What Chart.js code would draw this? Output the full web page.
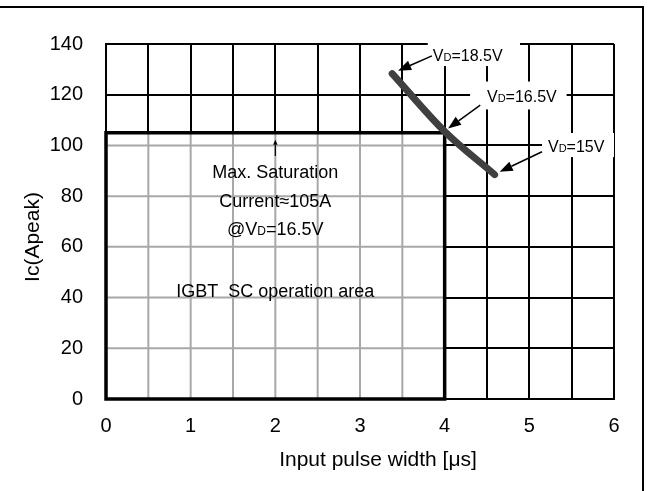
<!DOCTYPE html>
<html>
<head>
<meta charset="utf-8">
<script src="https://cdn.jsdelivr.net/npm/chart.js@4.4.1/dist/chart.umd.min.js"></script>
<style>
  html, body { margin: 0; padding: 0; background: #fff; overflow: hidden; }
  #frame { position: absolute; left: -4px; top: 6px; width: 648px; height: 520px; border: 2px solid #000; box-sizing: border-box; }
  #c { position: absolute; left: 0; top: 0; }
</style>
</head>
<body>
<div id="frame"></div>
<canvas id="c" width="659" height="491"></canvas>
<script>
// curve: Ic(peak) vs input pulse width
const pulseWidth = [3.38, 4.0, 4.59]
const icPeak = [128.3, 105.5, 88.5]

// axes
const xMin = 0, xMax = 6, xStep = 0.5
const yMin = 0, yMax = 140, yStep = 20

// SC operation area (x 0..4 us, y 0..105 A)
const areaX = [0, 4]
const areaY = [0, 105]

// VD labels: text, text anchor [x, y], white box [x0, x1, y0, y1], arrow tail, arrow head
const vdText = ["=18.5V", "=16.5V", "=15V"]
const vdAt = [[3.86, 135.4], [4.5, 119.3], [5.22, 99.5]]
const vdBox = [[3.80, 4.89, 131.3, 142.6], [4.3, 5.44, 114.2, 125.2], [5.15, 6.0, 95.4, 104.9]]
const arrowTail = [[3.85, 135.3], [4.42, 115.9], [5.15, 97.5]]
const arrowHead = [[3.45, 129.5], [4.04, 106.7], [4.65, 89.6]]

const FONT = "'Liberation Sans', Arial, sans-serif"

function drawVd(ctx, px, py, pre, rest, size, align) {
  const big = size + "px " + FONT
  const small = Math.round(size * 0.66) + "px " + FONT
  ctx.font = big
  const wP = ctx.measureText(pre).width
  const wV = ctx.measureText("V").width
  const wR = ctx.measureText(rest).width
  ctx.font = small
  const wD = ctx.measureText("D").width
  let x0 = px
  if (align === "center") x0 = px - (wP + wV + wD + wR) / 2
  ctx.textAlign = "left"
  ctx.textBaseline = "alphabetic"
  const base = py + size * 0.36
  ctx.font = big
  ctx.fillText(pre + "V", x0, base)
  ctx.font = small
  ctx.fillText("D", x0 + wP + wV, base)
  ctx.font = big
  ctx.fillText(rest, x0 + wP + wV + wD, base)
}

function arrow(ctx, x1, y1, x2, y2, len, w, lw) {
  const a = Math.atan2(y2 - y1, x2 - x1)
  const bx = x2 - len * Math.cos(a), by = y2 - len * Math.sin(a)
  ctx.strokeStyle = "#000"
  ctx.lineWidth = lw
  ctx.beginPath()
  ctx.moveTo(x1, y1)
  ctx.lineTo(bx, by)
  ctx.stroke()
  ctx.fillStyle = "#000"
  ctx.beginPath()
  ctx.moveTo(x2, y2)
  ctx.lineTo(bx + w * Math.sin(a), by - w * Math.cos(a))
  ctx.lineTo(bx - w * Math.sin(a), by + w * Math.cos(a))
  ctx.closePath()
  ctx.fill()
}

const overlay = {
  id: "overlay",
  beforeDatasetsDraw(chart) {
    const ctx = chart.ctx
    const x = chart.scales.x, y = chart.scales.y
    const L = x.getPixelForValue(areaX[0]), R = x.getPixelForValue(areaX[1])
    const T = y.getPixelForValue(areaY[1]), B = y.getPixelForValue(areaY[0])
    ctx.save()
    // grey grid inside the SC area
    ctx.fillStyle = "#fff"
    ctx.fillRect(L, T, R - L, B - T)
    ctx.strokeStyle = "#a8a8a8"
    ctx.lineWidth = 2
    x.ticks.forEach(t => {
      if (t.value > areaX[0] && t.value < areaX[1]) {
        const p = x.getPixelForValue(t.value)
        ctx.beginPath(); ctx.moveTo(p, T); ctx.lineTo(p, B); ctx.stroke()
      }
    })
    y.ticks.forEach(t => {
      if (t.value > areaY[0] && t.value < areaY[1]) {
        const p = y.getPixelForValue(t.value)
        ctx.beginPath(); ctx.moveTo(L, p); ctx.lineTo(R, p); ctx.stroke()
      }
    })
    ctx.strokeStyle = "#000"
    ctx.lineWidth = 3.5
    ctx.strokeRect(L, T, R - L, B - T)
    // white boxes behind VD labels
    ctx.fillStyle = "#fff"
    vdBox.forEach(b => {
      const x0 = x.getPixelForValue(b[0]), x1 = x.getPixelForValue(b[1])
      const y0 = y.getPixelForValue(b[3]), y1 = y.getPixelForValue(b[2])
      ctx.fillRect(x0, y0, x1 - x0, y1 - y0)
    })
    ctx.restore()
  },
  afterDatasetsDraw(chart) {
    const ctx = chart.ctx
    const x = chart.scales.x, y = chart.scales.y
    ctx.save()
    ctx.fillStyle = "#000"
    for (let i = 0; i < vdText.length; i++) {
      drawVd(ctx, x.getPixelForValue(vdAt[i][0]), y.getPixelForValue(vdAt[i][1]), "", vdText[i], 16, "left")
      arrow(ctx, x.getPixelForValue(arrowTail[i][0]), y.getPixelForValue(arrowTail[i][1]),
        x.getPixelForValue(arrowHead[i][0]), y.getPixelForValue(arrowHead[i][1]), 13, 5, 1.5)
    }
    // SC area texts
    const cx = x.getPixelForValue(2)
    arrow(ctx, cx, y.getPixelForValue(95.8), cx, y.getPixelForValue(102.2), 5, 2.2, 1.2)
    ctx.fillStyle = "#000"
    ctx.textAlign = "center"
    ctx.textBaseline = "middle"
    ctx.font = "18px " + FONT
    ctx.fillText("Max. Saturation", cx, y.getPixelForValue(89.1))
    ctx.fillText("Current≈105A", cx, y.getPixelForValue(77.7))
    drawVd(ctx, cx, y.getPixelForValue(67.4), "@", "=16.5V", 18, "center")
    ctx.textAlign = "center"
    ctx.textBaseline = "middle"
    ctx.font = "18px " + FONT
    ctx.fillText("IGBT  SC operation area", cx, y.getPixelForValue(42.2))
    // axis titles
    ctx.font = "21px " + FONT
    ctx.textBaseline = "alphabetic"
    ctx.fillText("Input pulse width [μs]", 378, 466)
    ctx.translate(38.5, 237)
    ctx.rotate(-Math.PI / 2)
    ctx.fillText("Ic(Apeak)", 0, 0)
    ctx.restore()
  }
}

const points = pulseWidth.map((v, i) => ({ x: v, y: icPeak[i] }))

new Chart(document.getElementById("c"), {
  type: "line",
  data: {
    datasets: [{
      data: points,
      borderColor: "#404040",
      borderWidth: 7,
      borderCapStyle: "round",
      pointRadius: 0,
      fill: false,
      cubicInterpolationMode: "monotone"
    }]
  },
  options: {
    responsive: false,
    animation: false,
    devicePixelRatio: 1,
    layout: { padding: { top: 44, right: 45, left: 0, bottom: 0 } },
    plugins: { legend: { display: false }, tooltip: { enabled: false } },
    scales: {
      x: {
        type: "linear",
        min: xMin,
        max: xMax,
        afterFit: s => { s.height = 92 },
        grid: { color: "#000", lineWidth: 2, drawTicks: false },
        border: { color: "#000", width: 2 },
        ticks: {
          stepSize: xStep,
          autoSkip: false,
          maxRotation: 0,
          padding: 15,
          color: "#000",
          font: { family: FONT, size: 20 },
          callback: v => Number.isInteger(v) ? v : ""
        }
      },
      y: {
        min: yMin,
        max: yMax,
        afterFit: s => { s.width = 106 },
        grid: { color: "#000", lineWidth: 2, drawTicks: false },
        border: { color: "#000", width: 2 },
        ticks: {
          stepSize: yStep,
          padding: 23,
          color: "#000",
          font: { family: FONT, size: 20 }
        }
      }
    }
  },
  plugins: [overlay]
})
</script>
</body>
</html>
